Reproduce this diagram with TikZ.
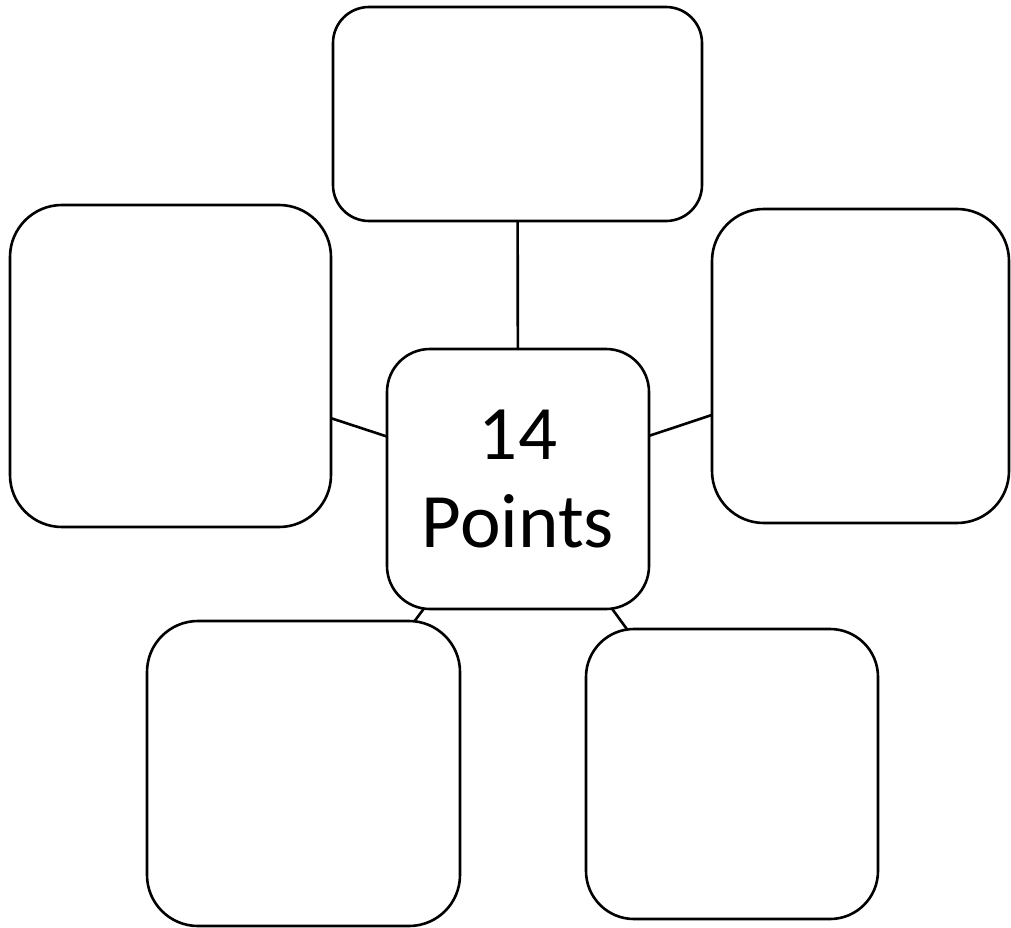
\documentclass[tikz,border=0pt]{standalone}
\usepackage{fontspec}
\setmainfont{Carlito}
\begin{document}
\begin{tikzpicture}[x=1pt,y=-1pt,
  box/.style={draw=black, line width=2.6pt, fill=white, inner sep=0pt, outer sep=0pt},
  link/.style={draw=black, line width=2.6pt}]
\useasboundingbox (0,0) rectangle (1011,928);
% boxes (centre, size, corner radius)
\node[box, rounded corners=43pt, minimum width=262pt, minimum height=260pt,
      align=center, font=\fontsize{77}{88}\selectfont] (c) at (518,479) {14\\Points};
\node[box, rounded corners=36pt, minimum width=369pt, minimum height=214pt] (t) at (517.5,114) {};
\node[box, rounded corners=52pt, minimum width=321pt, minimum height=322pt] (l) at (170.5,366) {};
\node[box, rounded corners=52pt, minimum width=297pt, minimum height=314pt] (r) at (860.5,366) {};
\node[box, rounded corners=51pt, minimum width=313pt, minimum height=305pt] (bl) at (303.5,773.5) {};
\node[box, rounded corners=48pt, minimum width=292pt, minimum height=290pt] (br) at (732,774) {};
% connectors
\draw[link] (t) -- (c);
\draw[link] (l) -- (c);
\draw[link] (r) -- (c);
\draw[link] (bl) -- (c);
\draw[link] (br) -- (c);
\end{tikzpicture}
\end{document}
